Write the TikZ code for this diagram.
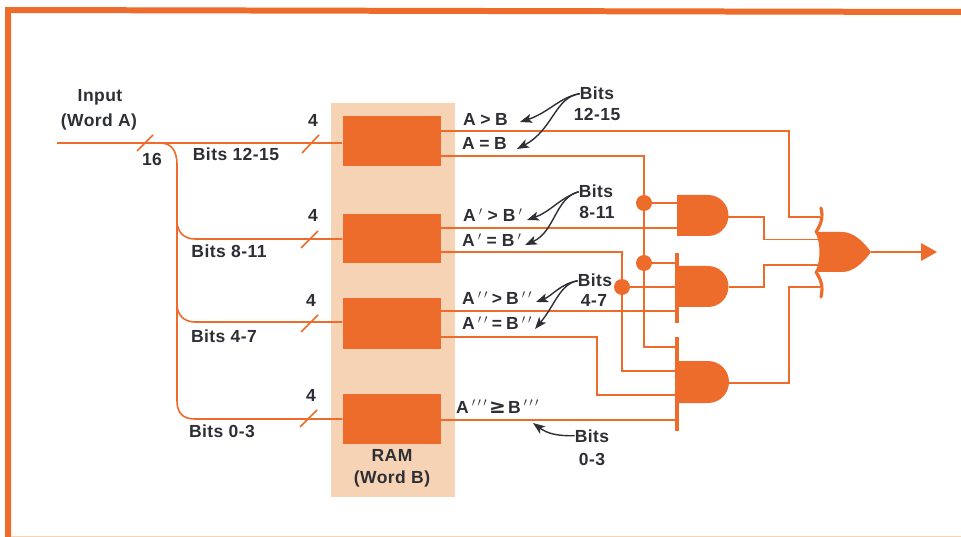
\documentclass[tikz,border=0pt]{standalone}
\usepackage{fontspec}
\setmainfont{Liberation Sans}[LetterSpace=2.5]
\usetikzlibrary{arrows.meta}
\definecolor{org}{HTML}{EE6C2B}
\definecolor{ramtan}{HTML}{F6D3B4}
\definecolor{ink}{HTML}{2E2F35}
\newcommand{\gp}[1]{\hspace{#1pt}}
\newcommand{\onep}{\gp{3}$'$}
\newcommand{\twop}{\gp{3}$'$\gp{2.5}$'$}
\newcommand{\threep}{\gp{3}$'$\gp{2}$'$\gp{2}$'$}
\tikzset{
  wire/.style={draw=org,line width=1.6pt},
  slashmark/.style={draw=org,line width=1.6pt},
  rambox/.style={fill=org,draw=none,inner sep=0pt,minimum width=98pt},
  dotnode/.style={circle,fill=org,draw=none,inner sep=0pt,minimum size=16pt},
  lbl/.style={font=\fontsize{17.5}{18}\selectfont\bfseries,text=ink,inner sep=0pt,anchor=base},
  lbw/.style={lbl,anchor=base west},
  gatefill/.style={fill=org,draw=none},
  bar/.style={draw=org,line width=3.2pt},
  note/.style={draw=ink,line width=1.4pt,-{Stealth[length=12pt,width=9pt,inset=3pt]}},
}
\begin{document}
\begin{tikzpicture}[x=1pt,y=-1pt]
\useasboundingbox (0,0) rectangle (961,537);
\fill[white] (0,0) rectangle (961,537);
% frame
\fill[org] (5,7) -- (961,9) -- (961,15) -- (11,13) -- (11,537) -- (5,537) -- cycle;
\draw[ramtan,line width=1pt] (11,536.3) -- (961,536.3);
% RAM band
\node[fill=ramtan,draw=none,inner sep=0pt,minimum width=124pt,minimum height=394pt] (ram) at (393,300) {};
\node[rambox,minimum height=50pt] (r1) at (391.5,141) {};
\node[rambox,minimum height=49pt] (r2) at (391.5,238.5) {};
\node[rambox,minimum height=51pt] (r3) at (391.5,323.5) {};
\node[rambox,minimum height=50pt] (r4) at (391.5,419) {};
% gates
\fill[gatefill] (677,195) -- (708,195) arc[start angle=-90,end angle=90,radius=20.5] -- (677,236) -- cycle;
\fill[gatefill] (677,266) -- (708,266) arc[start angle=-90,end angle=90,radius=20.5] -- (677,307) -- cycle;
\fill[gatefill] (677,361) -- (708,361) arc[start angle=-90,end angle=90,radius=21] -- (677,403) -- cycle;
\draw[bar] (677,253) -- (677,323);
\draw[bar] (677,337) -- (677,431);
\fill[gatefill] (815,232) -- (842,232) .. controls (853,232) and (863,241) .. (871,252) .. controls (863,263) and (853,272) .. (842,272) -- (815,272) .. controls (821,262) and (821,242) .. (815,232) -- cycle;
\draw[bar,line cap=round] (821,208) .. controls (823,216) and (822,223) .. (816,232);
\draw[bar,line cap=round] (816,272) .. controls (822,281) and (823,288) .. (821,297);
% pins
\coordinate (a1t) at (677,203); \coordinate (a1b) at (677,228); \coordinate (a1o) at (728,217);
\coordinate (a2t) at (677,263); \coordinate (a2m) at (677,287); \coordinate (a2b) at (677,311); \coordinate (a2o) at (729,287);
\coordinate (a3a) at (677,347); \coordinate (a3b) at (677,371); \coordinate (a3c) at (677,395); \coordinate (a3d) at (677,420); \coordinate (a3o) at (729,383);
\coordinate (o1) at (820,217); \coordinate (o2) at (818,239.5); \coordinate (o3) at (818,265); \coordinate (o4) at (820,287); \coordinate (oo) at (871,252);
\node[dotnode] (d1) at (644,203) {};
\node[dotnode] (d2) at (644,263) {};
\node[dotnode] (d3) at (622,287) {};
\coordinate (in) at (57,143);
\coordinate (rr) at (925,252);
% input bus
\draw[wire] (in) -- (r1.west |- in);
\draw[wire] (160,143) .. controls (171,143) and (177,150) .. (177,165) -- (177,401) .. controls (177,413) and (183,419) .. (195,419) -- (r4.west |- 0,419);
\draw[wire] (177,221) .. controls (177,232) and (184,239) .. (195,239) -- (r2.west |- 0,239);
\draw[wire] (177,304) .. controls (177,315) and (184,322) .. (195,322) -- (r3.west |- 0,322);
% slashes
\draw[slashmark] (137,151) -- (153,135);
\draw[slashmark] (302,153) -- (319,135);
\draw[slashmark] (301,248) -- (318,231);
\draw[slashmark] (301,332) -- (318,315);
\draw[slashmark] (300,427) -- (317,410);
% outputs
\draw[wire] (r1.east |- 0,131) -- (789,131) |- (o1);
\draw[wire] (r1.east |- 0,156) -- (644,156) -- (d1);
\draw[wire] (d1) -- (d2);
\draw[wire] (d2) |- (a3a);
\draw[wire] (d1) -- (a1t);
\draw[wire] (d2) -- (a2t);
\draw[wire] (r2.east |- 0,228) -- (a1b);
\draw[wire] (r2.east |- 0,252) -- (622,252) -- (d3);
\draw[wire] (d3) |- (a3b);
\draw[wire] (d3) -- (a2m);
\draw[wire] (r3.east |- 0,311) -- (a2b);
\draw[wire] (r3.east |- 0,337) -- (597,337) |- (a3c);
\draw[wire] (r4.east |- a3d) -- (a3d);
\draw[wire] (a1o) -- (764,217) |- (o2);
\draw[wire] (a2o) -- (764,287) |- (o3);
\draw[wire] (a3o) -- (789,383) |- (o4);
\draw[wire] (oo) -- (rr);
\fill[org] (921,243) -- (937,252) -- (921,261) -- cycle;
% left labels
\node[lbl] (t1) at (100,102) {Input};
\node[lbl] (t2) at (99,127) {(Word A)};
\node[lbl] (t3) at (152,166) {16};
\node[lbl] (t4) at (313,127) {4};
\node[lbl] (t5) at (313,222) {4};
\node[lbl] (t6) at (311,307) {4};
\node[lbl] (t7) at (311,401) {4};
\node[lbl] (t8) at (236,161) {Bits 12-15};
\node[lbl] (t9) at (229,258) {Bits 8-11};
\node[lbl] (t10) at (224,342) {Bits 4-7};
\node[lbl] (t11) at (222,437) {Bits 0-3};
\node[lbl] (t12) at (392,461) {RAM};
\node[lbl] (t13) at (392,483) {(Word B)};
% compare labels
\node[lbw] (c1) at (463,126) {A\gp{4.5}>\gp{4.5}B};
\node[lbw] (c2) at (462,150) {A\gp{4.5}=\gp{4.5}B};
\node[lbw] (c3) at (463,222) {A\onep\gp{5}>\gp{5}B\onep};
\node[lbw] (c4) at (462,247) {A\onep\gp{5}=\gp{5}B\onep};
\node[lbw] (c5) at (462,305) {A\twop\gp{4}>\gp{4}B\twop};
\node[lbw] (c6) at (462,330) {A\twop\gp{4}=\gp{4}B\twop};
\node[lbw] (c7) at (456,413) {A\threep\gp{2}{\fontsize{20}{20}\fontspec{DejaVu Sans Bold}≥}\gp{2}B\threep};
% bits notes
\node[lbl] (b1) at (597,100) {Bits};
\node[lbl] (b1a) at (597,121) {12-15};
\node[lbl] (b2) at (596,198) {Bits};
\node[lbl] (b2a) at (597,219) {8-11};
\node[lbl] (b3) at (595,287) {Bits};
\node[lbl] (b3a) at (594,306) {4-7};
\node[lbl] (b4) at (592,442) {Bits};
\node[lbl] (b4a) at (592,465) {0-3};
\draw[note] (b1.west) .. controls (560,97) and (548,113) .. (520,122);
\draw[note] (b1.west) .. controls (555,97) and (553,130) .. (517,149);
\draw[note] (b2.west) .. controls (560,198) and (550,212) .. (527,220);
\draw[note] (b2.west) .. controls (555,198) and (555,232) .. (525,245);
\draw[note] (b3.west) .. controls (560,284) and (552,296) .. (536,302);
\draw[note] (b3.west) .. controls (560,284) and (555,305) .. (535,329);
\draw[note] (b4.west) .. controls (558,436) and (548,434) .. (533,423);
\end{tikzpicture}
\end{document}
